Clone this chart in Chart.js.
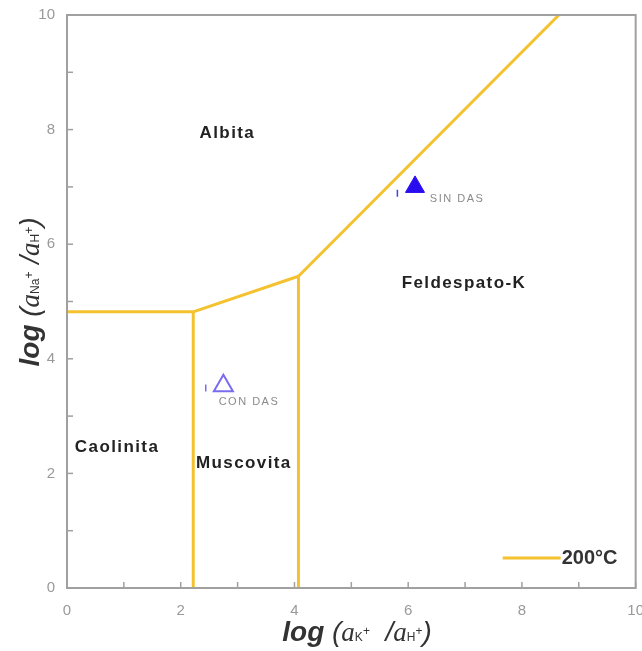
<!DOCTYPE html>
<html><head><meta charset="utf-8">
<script src="https://cdn.jsdelivr.net/npm/chart.js@4/dist/chart.umd.min.js"></script>
<style>html,body{margin:0;padding:0;background:#fff;overflow:hidden}#wrap{width:642px;height:651px;overflow:hidden}</style>
</head><body><div id="wrap"><canvas id="c" width="650" height="651"></canvas></div>
<script>
// Phase boundaries at 200°C
const boundaryCaolinitaAlbita = [{x:0,y:4.82},{x:2.22,y:4.82}];
const boundaryCaolinitaMuscovita = [{x:2.22,y:4.82},{x:2.22,y:0}];
const boundaryMuscovitaAlbita = [{x:2.22,y:4.82},{x:4.07,y:5.44}];
const boundaryMuscovitaFeldespato = [{x:4.07,y:5.44},{x:4.07,y:0}];
const boundaryAlbitaFeldespato = [{x:4.07,y:5.44},{x:8.65,y:10}];
// Samples
const sinDas = [{x:6.12,y:7.0}];
const conDas = [{x:2.75,y:3.53}];
const sinDasBar = [{x:5.81,y:6.83},{x:5.81,y:6.95}];
const conDasBar = [{x:2.44,y:3.43},{x:2.44,y:3.55}];
// Field labels
const fieldLabels = [
  {text:'Albita', x:2.82, y:7.93},
  {text:'Feldespato-K', x:6.98, y:5.31},
  {text:'Caolinita', x:0.88, y:2.46},
  {text:'Muscovita', x:3.11, y:2.18}
];
const pointLabels = [
  {text:'SIN DAS', x:6.86, y:6.79},
  {text:'CON DAS', x:3.2, y:3.25}
];
const xTicks = [0,2,4,6,8,10];
const yTicks = [0,2,4,6,8,10];
const minorTicks = [0,1,2,3,4,5,6,7,8,9,10];
const legendLabel = '200°C';

const gold = '#F4C22F';
const lineDs = (d, label) => ({label, data:d, showLine:true, borderColor:gold, borderWidth:3, pointRadius:0, fill:false, tension:0});

const overlay = {
  id:'overlay',
  afterDraw(chart){
    const ctx = chart.ctx, xs = chart.scales.x, ys = chart.scales.y, a = chart.chartArea;
    ctx.save();
    // frame
    ctx.strokeStyle = '#a0a0a0'; ctx.lineWidth = 2;
    ctx.strokeRect(a.left, a.top, a.right-a.left, a.bottom-a.top);
    // minor/major ticks inward
    ctx.lineWidth = 1.5;
    minorTicks.forEach(v=>{
      const px = xs.getPixelForValue(v), py = ys.getPixelForValue(v);
      ctx.beginPath(); ctx.moveTo(px, a.bottom); ctx.lineTo(px, a.bottom-6); ctx.stroke();
      ctx.beginPath(); ctx.moveTo(a.left, py); ctx.lineTo(a.left+6, py); ctx.stroke();
    });
    // field labels
    ctx.fillStyle = '#222'; ctx.font = 'bold 17px "Liberation Sans", Arial, sans-serif';
    ctx.letterSpacing = '1.4px';
    ctx.textAlign = 'center'; ctx.textBaseline = 'middle';
    fieldLabels.forEach(l=>ctx.fillText(l.text, xs.getPixelForValue(l.x), ys.getPixelForValue(l.y)));
    ctx.fillStyle = '#8a8a8a'; ctx.font = '11px "Liberation Sans", Arial, sans-serif';
    ctx.letterSpacing = '1.5px';
    pointLabels.forEach(l=>ctx.fillText(l.text, xs.getPixelForValue(l.x), ys.getPixelForValue(l.y)));
    ctx.letterSpacing = '0px';
    // legend
    const ly = a.bottom - 30;
    ctx.strokeStyle = gold; ctx.lineWidth = 3;
    ctx.beginPath(); ctx.moveTo(a.right-133, ly); ctx.lineTo(a.right-75, ly); ctx.stroke();
    ctx.fillStyle = '#333'; ctx.font = 'bold 20px "Liberation Sans", Arial, sans-serif';
    ctx.textAlign = 'left';
    ctx.fillText(legendLabel, a.right-74, ly);
    // axis titles
    const drawRich = (parts, cx, cy) => {
      let w = 0;
      parts.forEach(p=>{ ctx.font = p.f; w += ctx.measureText(p.t).width; });
      let x = cx - w/2;
      parts.forEach(p=>{ ctx.font = p.f; ctx.fillText(p.t, x, cy + (p.dy||0)); x += ctx.measureText(p.t).width; });
    };
    ctx.fillStyle = '#333'; ctx.textBaseline = 'alphabetic'; ctx.textAlign = 'left';
    const big = 'italic 28px "Liberation Sans", Arial, sans-serif';
    const bigB = 'italic bold 28px "Liberation Sans", Arial, sans-serif';
    const mid = 'italic 27px "Liberation Serif", serif';
    const sub = '12px "Liberation Sans", Arial, sans-serif';
    drawRich([
      {t:'log',f:bigB},{t:' (',f:big},{t:'a',f:mid},{t:'K',f:sub,dy:0},{t:'+',f:sub,dy:-6},
      {t:'  /',f:big},{t:'a',f:mid},{t:'H',f:sub},{t:'+',f:sub,dy:-6},{t:')',f:big}
    ], 357, 641);
    ctx.save();
    ctx.translate(29, 292);
    ctx.rotate(-Math.PI/2);
    drawRich([
      {t:'log',f:bigB},{t:' (',f:big},{t:'a',f:mid},{t:'Na',f:sub},{t:'+',f:sub,dy:-6},
      {t:' /',f:big},{t:'a',f:mid},{t:'H',f:sub},{t:'+',f:sub,dy:-6},{t:')',f:big}
    ], 0, 10);
    ctx.restore();
    ctx.restore();
  }
};

new Chart(document.getElementById('c'), {
  type:'scatter',
  data:{datasets:[
    lineDs(boundaryCaolinitaAlbita,'200°C'),
    lineDs(boundaryCaolinitaMuscovita,'b2'),
    lineDs(boundaryMuscovitaAlbita,'b3'),
    lineDs(boundaryMuscovitaFeldespato,'b4'),
    lineDs(boundaryAlbitaFeldespato,'b5'),
    {label:'SIN DAS', data:sinDas, pointStyle:'triangle', pointRadius:11, backgroundColor:'#2a0cf0', borderColor:'#2a0cf0', borderWidth:1},
    {label:'CON DAS', data:conDas, pointStyle:'triangle', pointRadius:11, backgroundColor:'rgba(0,0,0,0)', borderColor:'#7a6cf0', borderWidth:2},
    {label:'e1', data:sinDasBar, showLine:true, borderColor:'#4a3cf0', borderWidth:1.5, pointRadius:0},
    {label:'e2', data:conDasBar, showLine:true, borderColor:'#7a6cf0', borderWidth:1.5, pointRadius:0}
  ]},
  options:{
    responsive:false, animation:false,
    layout:{padding:{top:15,right:14,left:0,bottom:0}},
    plugins:{legend:{display:false}, tooltip:{enabled:false}},
    scales:{
      x:{type:'linear', min:0, max:10,
        afterFit(s){ s.height = 63; },
        afterBuildTicks(s){ s.ticks = xTicks.map(v=>({value:v})); },
        grid:{display:false}, border:{display:false},
        ticks:{color:'#999', font:{size:15, family:'"Liberation Sans", Arial'}, padding:6, maxRotation:0, autoSkip:false}
      },
      y:{type:'linear', min:0, max:10,
        afterFit(s){ s.width = 67; s.paddingTop = 0; s.paddingBottom = 0; },
        afterBuildTicks(s){ s.ticks = yTicks.map(v=>({value:v})); },
        grid:{display:false}, border:{display:false},
        ticks:{color:'#999', font:{size:15, family:'"Liberation Sans", Arial'}, padding:4}
      }
    }
  },
  plugins:[overlay]
});
</script></body></html>
